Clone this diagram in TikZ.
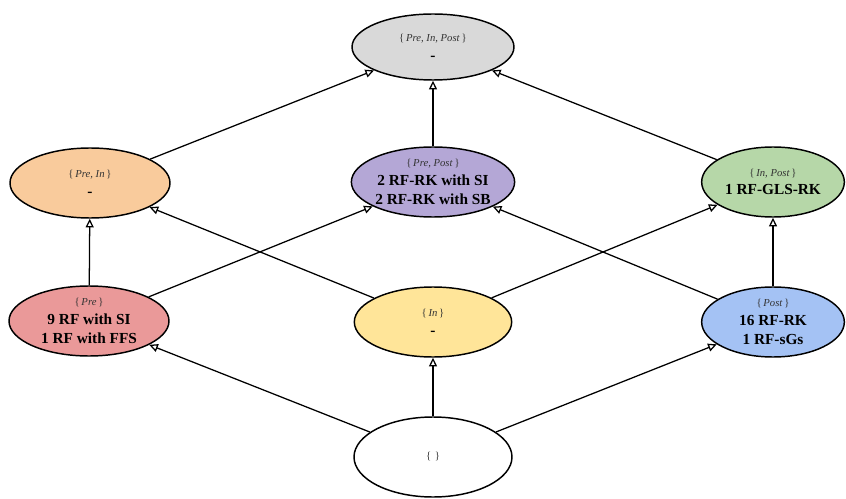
\documentclass[tikz,border=0pt]{standalone}
\usepackage{fontspec}
\setmainfont{Liberation Serif}
\usetikzlibrary{shapes.geometric,arrows.meta}
\definecolor{cTop}{HTML}{D9D9D9}
\definecolor{cPreIn}{HTML}{F9CB9C}
\definecolor{cPrePost}{HTML}{B4A7D6}
\definecolor{cInPost}{HTML}{B6D7A8}
\definecolor{cPre}{HTML}{EA9999}
\definecolor{cIn}{HTML}{FFE599}
\definecolor{cPost}{HTML}{A4C2F4}
\definecolor{cLbl}{HTML}{333333}
\newcommand\mysetlbl[1]{{\fontsize{8}{9.5}\selectfont\color{cLbl}\{\,#1\,\}}}
\newcommand\myval[1]{{\fontsize{11.5}{14}\selectfont\bfseries #1}}
\begin{document}
\begin{tikzpicture}[x=0.75pt,y=-0.75pt,
  lat/.style={ellipse,draw,line width=1.1pt,inner sep=0pt,align=center,
    minimum width=120pt,minimum height=52.5pt,font=\fontsize{11.5}{14}\selectfont},
  edge/.style={line width=0.95pt,-{Triangle[open,length=6.5pt,width=6pt]}}]
\useasboundingbox (0,0) rectangle (846,499);
% nodes
\node[lat,fill=cTop,minimum width=121.5pt,minimum height=49.5pt] (top) at (433,47)
  {\mysetlbl{\textit{Pre, In, Post}}\\ \myval{-}};
\node[lat,fill=cPreIn] (pi) at (90,183)
  {\mysetlbl{\textit{Pre, In}}\\ \myval{-}};
\node[lat,fill=cPrePost,minimum width=118pt] (pp) at (433,182)
  {\mysetlbl{\textit{Pre, Post}}\\ \myval{2 RF-RK with SI}\\ \myval{2 RF-RK with SB}};
\node[lat,fill=cInPost,minimum width=107pt] (ip) at (773,182)
  {\mysetlbl{\textit{In, Post}}\\ \myval{1 RF-GLS-RK}};
\node[lat,fill=cPre] (pre) at (89,321)
  {\mysetlbl{\textit{Pre}}\\ \myval{9 RF with SI}\\ \myval{1 RF with FFS}};
\node[lat,fill=cIn,minimum width=118pt] (in) at (433,322)
  {\mysetlbl{\textit{In}}\\ \myval{-}};
\node[lat,fill=cPost,minimum width=107pt] (post) at (773,322)
  {\mysetlbl{\textit{Post}}\\ \myval{16 RF-RK}\\ \myval{1 RF-sGs}};
\node[lat,fill=white,minimum width=118.5pt,minimum height=60pt] (bot) at (433,457)
  {\mysetlbl{}};
% edges
\draw[edge] (bot) -- (pre);
\draw[edge] (bot) -- (in);
\draw[edge] (bot) -- (post);
\draw[edge] (pre) -- (pi);
\draw[edge] (pre) -- (pp);
\draw[edge] (in) -- (pi);
\draw[edge] (in) -- (ip);
\draw[edge] (post) -- (pp);
\draw[edge] (post) -- (ip);
\draw[edge] (pi) -- (top);
\draw[edge] (pp) -- (top);
\draw[edge] (ip) -- (top);
\end{tikzpicture}
\end{document}
